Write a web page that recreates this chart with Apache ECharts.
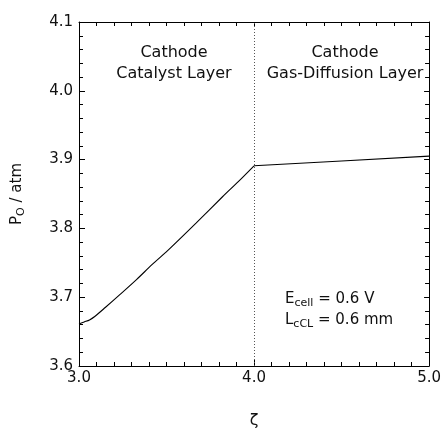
<!DOCTYPE html>
<html>
<head>
<meta charset="utf-8">
<script src="https://cdn.jsdelivr.net/npm/echarts@6/dist/echarts.min.js"></script>
<style>
  html, body { margin: 0; padding: 0; background: #fff; }
  #chart { width: 444px; height: 434px; }
</style>
</head>
<body>
<div id="chart"></div>
<script>
// Oxygen partial pressure across the cathode catalyst layer (3 < zeta < 4)
// and the cathode gas-diffusion layer (4 < zeta < 5).
const zetaCL = [3.00, 3.03, 3.06, 3.09, 3.15, 3.23, 3.33, 3.42, 3.52, 3.67, 3.82, 3.91, 4.00];
const pressureCL = [3.661, 3.664, 3.667, 3.672, 3.685, 3.703, 3.726, 3.748, 3.771, 3.808, 3.846, 3.868, 3.891];
const zetaGDL = [4.00, 4.50, 5.00];
const pressureGDL = [3.891, 3.898, 3.905];
const layerBoundary = 4.0;

const FONT = "'DejaVu Sans', 'Liberation Sans', Arial, sans-serif";
const INK = '#111';

const curveCL = zetaCL.map((z, i) => [z, pressureCL[i]]);
const curveGDL = zetaGDL.map((z, i) => [z, pressureGDL[i]]);

const chart = echarts.init(document.getElementById('chart'), null, { renderer: 'canvas' });

const axisLine = { show: true, lineStyle: { color: '#000', width: 1 } };
const tick = len => ({ show: true, inside: true, length: len, lineStyle: { color: '#000' } });

function subText(x, y, main, sub, tail) {
  return {
    type: 'text', x, y,
    style: {
      text: '{m|' + main + '}{s|' + sub + '}{m|' + tail + '}',
      textVerticalAlign: 'middle',
      rich: {
        m: { fontSize: 15, fill: INK, fontFamily: FONT },
        s: { fontSize: 11, fill: INK, fontFamily: FONT, padding: [9, 0, 0, 0] }
      }
    }
  };
}

function centered(x, y, text) {
  return {
    type: 'text', x, y,
    style: { text, fontSize: 16, fill: INK, fontFamily: FONT, align: 'center', verticalAlign: 'middle' }
  };
}

chart.setOption({
  animation: false,
  backgroundColor: '#fff',
  grid: { left: 79, right: 13, top: 22, bottom: 61 },
  xAxis: [
    {
      type: 'value', min: 3, max: 5, interval: 1, position: 'bottom',
      axisLine, splitLine: { show: false },
      axisTick: tick(6),
      minorTick: { show: true, splitNumber: 10, length: 4, lineStyle: { color: '#000' } },
      axisLabel: { margin: 5, fontSize: 15, color: INK, fontFamily: FONT,
        formatter: v => v.toFixed(1) },
      name: 'ζ', nameLocation: 'middle', nameGap: 47,
      nameTextStyle: { fontSize: 16, color: INK, fontFamily: FONT }
    },
    {
      type: 'value', min: 3, max: 5, interval: 1, position: 'top',
      axisLine, splitLine: { show: false },
      axisTick: tick(5),
      minorTick: { show: true, splitNumber: 10, length: 4, lineStyle: { color: '#000' } },
      axisLabel: { show: false }
    }
  ],
  yAxis: [
    {
      type: 'value', min: 3.6, max: 4.1, interval: 0.1, position: 'left',
      axisLine, splitLine: { show: false },
      axisTick: tick(6),
      minorTick: { show: true, splitNumber: 5, length: 4, lineStyle: { color: '#000' } },
      axisLabel: { margin: 6, fontSize: 15, color: INK, fontFamily: FONT,
        formatter: v => v.toFixed(1) },
      name: '{m|P}{s|O}{m| / atm}', nameLocation: 'middle', nameRotate: 90, nameGap: 52,
      nameTextStyle: {
        color: INK, fontFamily: FONT,
        rich: {
          m: { fontSize: 15, color: INK, fontFamily: FONT },
          s: { fontSize: 11, color: INK, fontFamily: FONT, padding: [9, 0, 0, 0] }
        }
      }
    },
    {
      type: 'value', min: 3.6, max: 4.1, interval: 0.1, position: 'right',
      axisLine, splitLine: { show: false },
      axisTick: tick(5),
      minorTick: { show: true, splitNumber: 5, length: 4, lineStyle: { color: '#000' } },
      axisLabel: { show: false }
    }
  ],
  series: [
    {
      type: 'line',
      xAxisIndex: 0, yAxisIndex: 0,
      data: curveCL,
      showSymbol: false,
      smooth: 0.3,
      lineStyle: { color: '#000', width: 1.1 },
      markLine: {
        silent: true,
        symbol: 'none',
        label: { show: false },
        lineStyle: { color: '#555', width: 1, type: [1, 2] },
        data: [{ xAxis: layerBoundary }]
      }
    },
    {
      type: 'line',
      xAxisIndex: 0, yAxisIndex: 0,
      data: curveGDL,
      showSymbol: false,
      lineStyle: { color: '#000', width: 1.1 }
    }
  ],
  graphic: [
    centered(174, 53, 'Cathode'),
    centered(174, 74, 'Catalyst Layer'),
    centered(345, 53, 'Cathode'),
    centered(345, 74, 'Gas-Diffusion Layer'),
    subText(285, 299, 'E', 'cell', ' = 0.6 V'),
    subText(285, 320, 'L', 'cCL', ' = 0.6 mm')
  ]
});
</script>
</body>
</html>
